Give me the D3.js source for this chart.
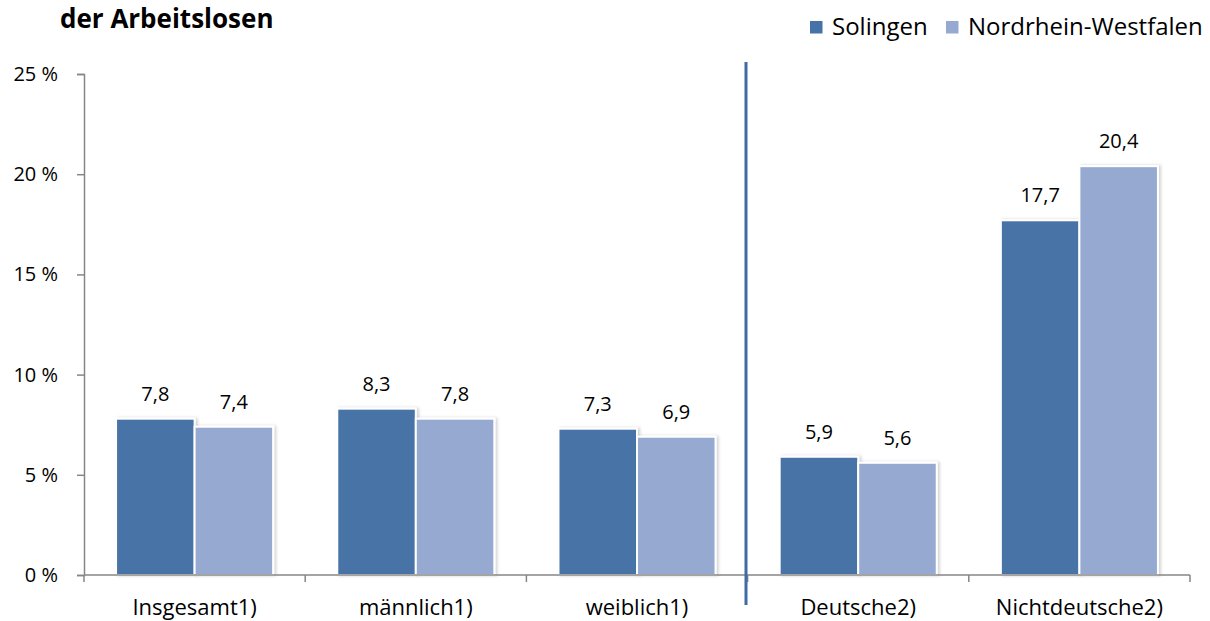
<!DOCTYPE html>
<html><head><meta charset="utf-8">
<script src="https://cdn.jsdelivr.net/npm/d3@7"></script>
<style>
html,body{margin:0;padding:0;background:#fff;}
svg{display:block;font-family:"Open Sans",sans-serif;}
</style></head>
<body>
<script>
const categories = ["Insgesamt1)", "männlich1)", "weiblich1)", "Deutsche2)", "Nichtdeutsche2)"];
const seriesNames = ["Solingen", "Nordrhein-Westfalen"];
const solingen = [7.8, 8.3, 7.3, 5.9, 17.7];
const nrw = [7.4, 7.8, 6.9, 5.6, 20.4];
const yTicks = [0, 5, 10, 15, 20, 25];
const colors = ["#4673A7", "#95A9D1"];

const W = 1210, H = 621;
const FONT = "'Open Sans', sans-serif";
const svg = d3.select("body").append("svg").attr("width", W).attr("height", H);

const defs = svg.append("defs");
const f = defs.append("filter").attr("id","sh").attr("x","-10%").attr("y","-10%").attr("width","130%").attr("height","120%");
f.append("feDropShadow").attr("dx",2).attr("dy",0).attr("stdDeviation",1.5).attr("flood-color","#000").attr("flood-opacity",0.18);

const x = d3.scaleBand().domain(categories).range([84, 1190]).paddingInner(0.29).paddingOuter(0.145);
const xs = d3.scaleBand().domain(seriesNames).range([0, x.bandwidth()]);
const y = d3.scaleLinear().domain([0, 25]).range([575, 74]);

// title
svg.append("text").attr("x", 60).attr("y", 28).attr("font-weight", "bold").attr("font-size", 26)
  .attr("fill", "#000").text("der Arbeitslosen");

// bars
const data = categories.map((c, i) => ({c, vals: [solingen[i], nrw[i]]}));
const g = svg.append("g");
data.forEach(d => {
  d.vals.forEach((v, j) => {
    g.append("rect")
      .attr("x", x(d.c) + xs(seriesNames[j]))
      .attr("y", y(v))
      .attr("width", xs.bandwidth())
      .attr("height", y(0) - y(v))
      .attr("fill", colors[j])
      .attr("stroke", "#fff").attr("stroke-width", 2)
      .attr("filter", "url(#sh)");
    g.append("text")
      .attr("x", x(d.c) + xs(seriesNames[j]) + xs.bandwidth() / 2)
      .attr("y", y(v) - 18)
      .attr("text-anchor", "middle").attr("font-size", 20).attr("fill", "#000")
      .text(d3.format(".1f")(v).replace(".", ","));
  });
});

// y axis
const yAxis = d3.axisLeft(y).tickValues(yTicks).tickSize(7).tickPadding(19).tickFormat(d => d + " %");
const ya = svg.append("g").attr("transform", "translate(84,0)").call(yAxis);
ya.select(".domain").attr("stroke", "#868686").attr("stroke-width", 1.5);
ya.selectAll(".tick line").attr("stroke", "#868686").attr("stroke-width", 1.5);
ya.selectAll(".tick text").attr("font-size", 20).attr("fill", "#000").attr("font-family", FONT);

// x axis
const xa = svg.append("g").attr("transform", "translate(0,575)");
xa.append("line").attr("x1", 84).attr("x2", 1190).attr("y1", 0).attr("y2", 0).attr("stroke", "#868686").attr("stroke-width", 1.5);
const bounds = d3.range(categories.length + 1).map(i => 84 + i * x.step());
xa.selectAll("line.tk").data(bounds).join("line").attr("class", "tk")
  .attr("x1", d => d).attr("x2", d => d).attr("y1", 0).attr("y2", 7)
  .attr("stroke", "#868686").attr("stroke-width", 1.5);
xa.selectAll("text").data(categories).join("text")
  .attr("x", d => x(d) + x.bandwidth() / 2).attr("y", 40)
  .attr("text-anchor", "middle").attr("font-size", 22).attr("fill", "#000").text(d => d);

// separator
svg.append("line").attr("x1", 746).attr("x2", 746).attr("y1", 62).attr("y2", 605)
  .attr("stroke", "#3F6DA3").attr("stroke-width", 3);

// legend
const leg = svg.append("g");
const legX = [810, 946];
seriesNames.forEach((s, j) => {
  leg.append("rect").attr("x", legX[j]).attr("y", 21).attr("width", 12.5).attr("height", 12.5).attr("fill", colors[j]);
  leg.append("text").attr("x", legX[j] + 22).attr("y", 35).attr("font-size", 24).attr("fill", "#000").text(s);
});
</script>
</body></html>
